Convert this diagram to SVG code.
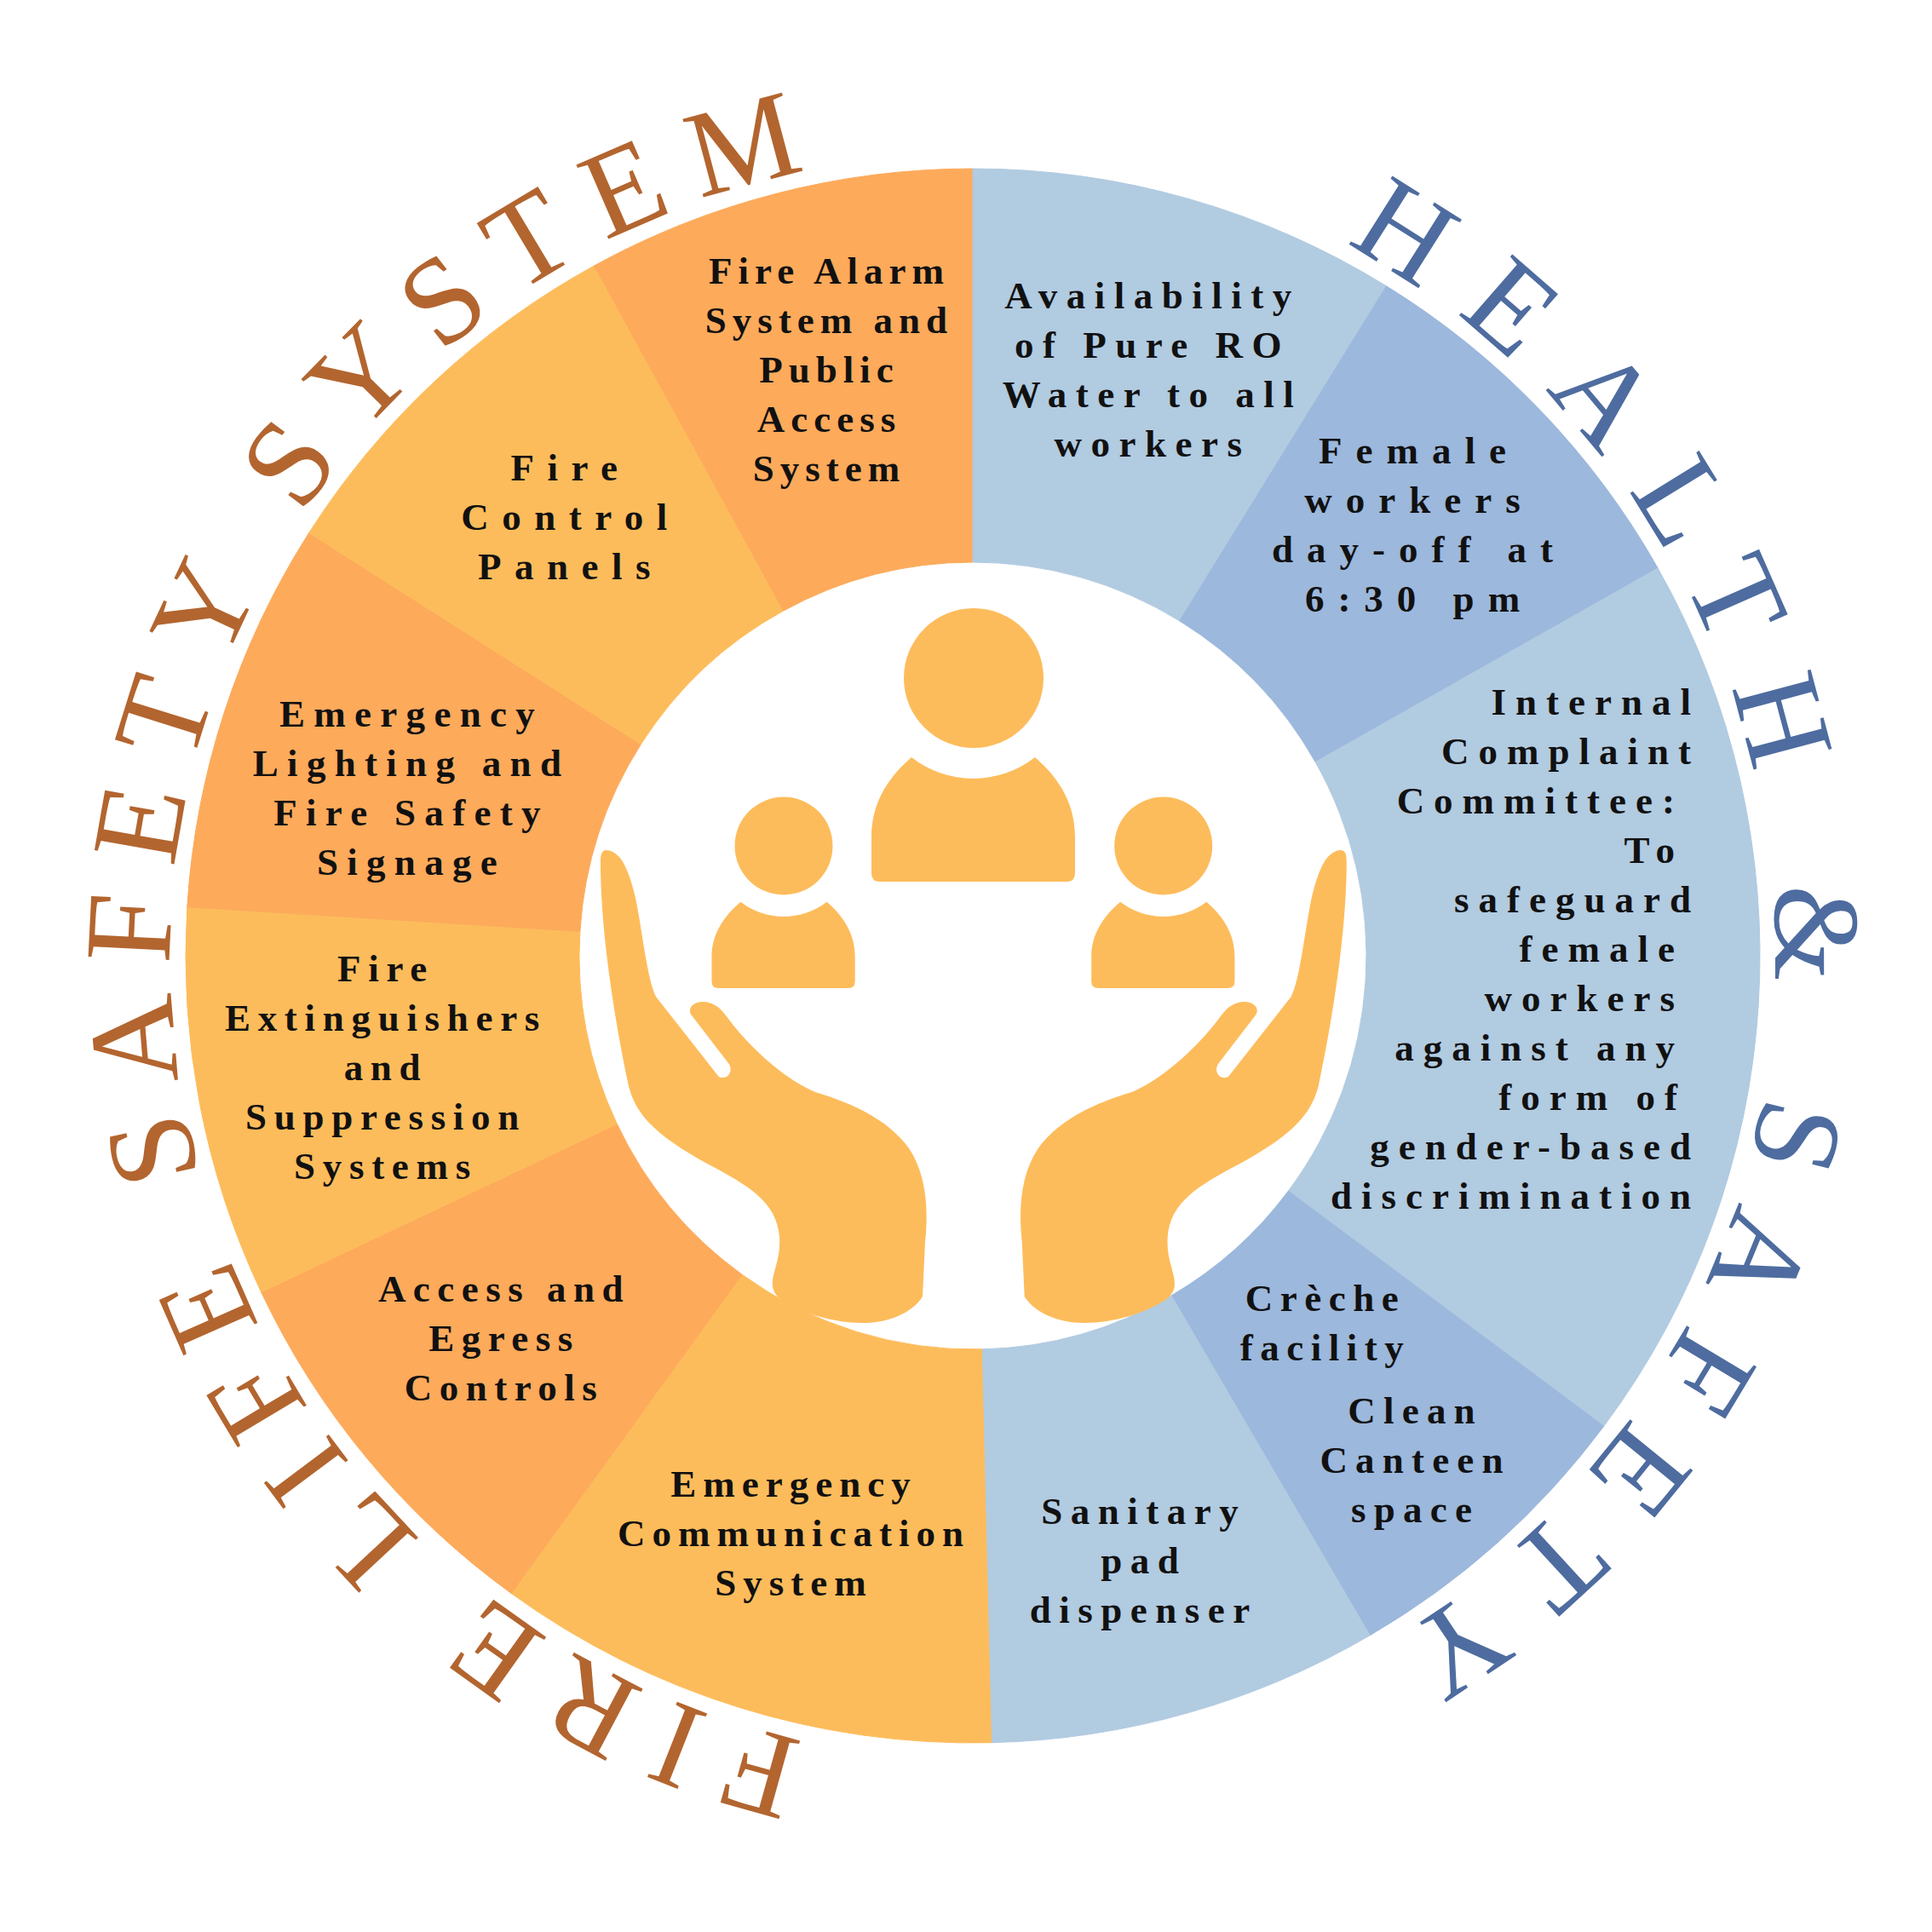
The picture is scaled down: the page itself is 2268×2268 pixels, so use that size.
<svg xmlns="http://www.w3.org/2000/svg" xmlns:xlink="http://www.w3.org/1999/xlink" width="2268" height="2268" viewBox="0 0 2268 2268">
<style>
.o-dk{fill:#FDAA5B;stroke:#FDAA5B;stroke-width:1}
.o-lt{fill:#FDBC5B;stroke:#FDBC5B;stroke-width:1}
.b-lt{fill:#B1CBE1;stroke:#B1CBE1;stroke-width:1}
.b-dk{fill:#9CB8DC;stroke:#9CB8DC;stroke-width:1}
.icon{fill:#FDBC5B}
.lbl{font-family:"Liberation Serif","Times New Roman",serif;font-weight:bold;font-size:45px;fill:#111111;text-anchor:middle}
.lbl-end{text-anchor:end}
.arc{font-family:"Liberation Serif","Times New Roman",serif;font-size:145px}
.arcF{fill:#B3652F;letter-spacing:32.7px}
.arcH{fill:#4E6C9F;letter-spacing:48.5px}
</style>
<defs>
<path id="arcLeft" d="M 1142 2064 A 942 942 0 1 1 1142 180 A 942 942 0 1 1 1142 2064"/>
<path id="arcRight" d="M 1142 180 A 942 942 0 1 1 1142 2064 A 942 942 0 1 1 1142 180"/>
<path id="handL" d="M 712 998 C 704 998 705 1008 705 1020 C 706 1100 722 1200 738 1275 C 748 1315 780 1338 830 1366 C 880 1392 912 1412 915 1452 C 917 1480 905 1495 907 1510 C 908 1518 913 1523 919 1527 C 940 1540 975 1553 1013 1553 C 1045 1553 1072 1540 1083 1522 L 1086 1458 C 1090 1420 1088 1380 1067 1348 C 1045 1318 1010 1298 957 1282 C 920 1266 880 1230 852 1192 C 844 1181 835 1176 825 1176 C 814 1176 806 1184 812 1192 L 855 1248 C 861 1256 856 1266 847 1265 C 845 1265 844 1264 843 1263 L 770 1170 C 760 1150 755 1100 747 1059 C 742 1035 735 1015 727 1006 C 722 1001 717 998 712 998 Z"/>
<g id="smallPerson">
<circle cx="920" cy="993" r="57.5"/>
<path d="M 835.5 1123 C 835.5 1098 848 1077 869.4 1058.7 A 83 83 0 0 0 970.6 1058.7 C 992 1077 1003.7 1098 1003.7 1123 L 1003.7 1152 Q 1003.7 1160 995.7 1160 L 843.5 1160 Q 835.5 1160 835.5 1152 Z"/>
</g>
</defs>
<rect x="0" y="0" width="2268" height="2268" fill="#FFFFFF"/>

<g id="seg-emergency-communication">
<path class="o-lt" d="M 1164.57 2045.72 A 924 924 0 0 1 600.21 1870.50 L 871.11 1496.25 A 462 462 0 0 0 1153.29 1583.86 Z"/>
<text class="lbl" style="letter-spacing:8px"><tspan x="932" y="1757">Emergency</tspan><tspan x="932" y="1815">Communication</tspan><tspan x="932" y="1873">System</tspan></text>
</g>
<g id="seg-access-egress">
<path class="o-dk" d="M 600.21 1870.50 A 924 924 0 0 1 306.63 1516.88 L 724.32 1319.44 A 462 462 0 0 0 871.11 1496.25 Z"/>
<text class="lbl" style="letter-spacing:8.5px"><tspan x="592" y="1528">Access and</tspan><tspan x="592" y="1586">Egress</tspan><tspan x="592" y="1644">Controls</tspan></text>
</g>
<g id="seg-fire-extinguishers">
<path class="o-lt" d="M 306.63 1516.88 A 924 924 0 0 1 219.77 1064.79 L 680.89 1093.39 A 462 462 0 0 0 724.32 1319.44 Z"/>
<text class="lbl" style="letter-spacing:8.7px"><tspan x="453" y="1152">Fire</tspan><tspan x="453" y="1210">Extinguishers</tspan><tspan x="453" y="1268">and</tspan><tspan x="453" y="1326">Suppression</tspan><tspan x="453" y="1384">Systems</tspan></text>
</g>
<g id="seg-emergency-lighting">
<path class="o-dk" d="M 219.77 1064.79 A 924 924 0 0 1 362.71 625.53 L 752.35 873.77 A 462 462 0 0 0 680.89 1093.39 Z"/>
<text class="lbl" style="letter-spacing:10.3px"><tspan x="483" y="853">Emergency</tspan><tspan x="483" y="911">Lighting and</tspan><tspan x="483" y="969">Fire Safety</tspan><tspan x="483" y="1027">Signage</tspan></text>
</g>
<g id="seg-fire-control">
<path class="o-lt" d="M 362.71 625.53 A 924 924 0 0 1 697.57 311.90 L 919.78 716.95 A 462 462 0 0 0 752.35 873.77 Z"/>
<text class="lbl" style="letter-spacing:15.5px"><tspan x="670" y="564">Fire</tspan><tspan x="670" y="622">Control</tspan><tspan x="670" y="680">Panels</tspan></text>
</g>
<g id="seg-fire-alarm">
<path class="o-dk" d="M 697.57 311.90 A 924 924 0 0 1 1142 198 L 1142 660 A 462 462 0 0 0 919.78 716.95 Z"/>
<text class="lbl" style="letter-spacing:7px"><tspan x="973.5" y="333">Fire Alarm</tspan><tspan x="973.5" y="391">System and</tspan><tspan x="973.5" y="449">Public</tspan><tspan x="973.5" y="507">Access</tspan><tspan x="973.5" y="565">System</tspan></text>
</g>
<g id="seg-ro-water">
<path class="b-lt" d="M 1142 198 A 924 924 0 0 1 1627.53 335.85 L 1384.77 728.93 A 462 462 0 0 0 1142 660 Z"/>
<text class="lbl" style="letter-spacing:10.5px"><tspan x="1353" y="362">Availability</tspan><tspan x="1353" y="420">of Pure RO</tspan><tspan x="1353" y="478">Water to all</tspan><tspan x="1353" y="536">workers</tspan></text>
</g>
<g id="seg-female-dayoff">
<path class="b-dk" d="M 1627.53 335.85 A 924 924 0 0 1 1946.21 667.00 L 1544.11 894.50 A 462 462 0 0 0 1384.77 728.93 Z"/>
<text class="lbl" style="letter-spacing:16px"><tspan x="1666" y="544">Female</tspan><tspan x="1666" y="602">workers</tspan><tspan x="1666" y="660">day-off at</tspan><tspan x="1666" y="718">6:30 pm</tspan></text>
</g>
<g id="seg-internal-complaint">
<path class="b-lt" d="M 1946.21 667.00 A 924 924 0 0 1 1882.81 1674.25 L 1512.40 1398.12 A 462 462 0 0 0 1544.11 894.50 Z"/>
<text class="lbl lbl-end" style="letter-spacing:11px"><tspan x="1996" y="839">Internal</tspan><tspan x="1996" y="897">Complaint</tspan><tspan x="1977" y="955">Committee:</tspan><tspan x="1977" y="1013">To</tspan><tspan x="1996" y="1071">safeguard</tspan><tspan x="1977" y="1129">female</tspan><tspan x="1977" y="1187">workers</tspan><tspan x="1977" y="1245">against any</tspan><tspan x="1980" y="1303">form of</tspan><tspan x="1996" y="1361">gender-based</tspan><tspan x="1996" y="1419">discrimination</tspan></text>
</g>
<g id="seg-creche-canteen">
<path class="b-dk" d="M 1882.81 1674.25 A 924 924 0 0 1 1608.19 1919.78 L 1375.09 1520.89 A 462 462 0 0 0 1512.40 1398.12 Z"/>
<text class="lbl" style="letter-spacing:8.5px"><tspan x="1556" y="1539">Crèche</tspan><tspan x="1556" y="1597">facility</tspan></text>
<text class="lbl" style="letter-spacing:9.2px"><tspan x="1661.6" y="1671">Clean</tspan><tspan x="1661.6" y="1729">Canteen</tspan><tspan x="1661.6" y="1787">space</tspan></text>
</g>
<g id="seg-sanitary">
<path class="b-lt" d="M 1608.19 1919.78 A 924 924 0 0 1 1164.57 2045.72 L 1153.29 1583.86 A 462 462 0 0 0 1375.09 1520.89 Z"/>
<text class="lbl" style="letter-spacing:9.5px"><tspan x="1342.7" y="1789">Sanitary</tspan><tspan x="1342.7" y="1847">pad</tspan><tspan x="1342.7" y="1905">dispenser</tspan></text>
</g>

<g id="center-icon" class="icon">
<circle cx="1143" cy="796" r="82"/>
<path d="M 1023 983 C 1023 945 1040 915 1070 889 A 118 118 0 0 0 1215 889 C 1245 915 1262 945 1262 983 L 1262 1025 Q 1262 1035 1252 1035 L 1033 1035 Q 1023 1035 1023 1025 Z"/>
<use xlink:href="#smallPerson"/>
<use xlink:href="#smallPerson" transform="translate(445.7 0)"/>
<use xlink:href="#handL"/>
<use xlink:href="#handL" transform="translate(2285.7 0) scale(-1 1)"/>
</g>

<g id="title-fire-life-safety">
<text class="arc arcF"><textPath xlink:href="#arcLeft" startOffset="199">FIRE LIFE SAFETY SYSTEM</textPath></text>
</g>
<g id="title-health-safety">
<text class="arc arcH"><textPath xlink:href="#arcRight" startOffset="454">HEALTH &amp; SAFETY</textPath></text>
</g>
<g id="connectors"/>
</svg>
